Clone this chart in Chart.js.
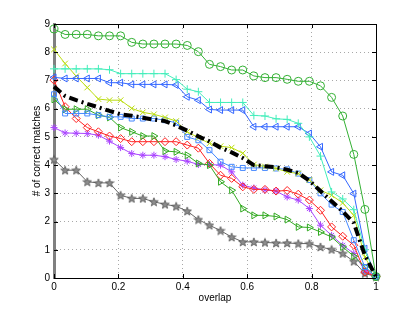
<!DOCTYPE html>
<html>
<head>
<meta charset="utf-8">
<script src="https://cdn.jsdelivr.net/npm/chart.js@4/dist/chart.umd.min.js"></script>
<style>
html,body{margin:0;padding:0;background:#fff}
#wrap{width:415px;height:313px}
</style>
</head>
<body>
<div id="wrap"><canvas id="c" width="415" height="313"></canvas></div>
<script>
// overlap values (x)
const overlap=[0,.0345,.069,.1034,.1379,.1724,.2069,.2414,.2759,.3103,.3448,.3793,.4138,.4483,.4828,.5172,.5517,.5862,.6207,.6552,.6897,.7241,.7586,.7931,.8276,.8621,.8966,.931,.9655,1];
const yTicks=[0,1,2,3,4,5,6,7,8,9];
const xTicks=[0,0.2,0.4,0.6,0.8,1];

const meanLine =[6.78,6.45,6.30,6.17,6.05,5.92,5.80,5.75,5.68,5.61,5.56,5.40,5.22,5.02,4.84,4.62,4.45,4.25,4.00,3.96,3.92,3.84,3.72,3.45,3.08,2.72,2.36,1.95,0.80,0.05];
const greenCirc=[8.82,8.63,8.63,8.63,8.58,8.58,8.58,8.35,8.29,8.29,8.29,8.29,8.24,8.02,7.57,7.49,7.37,7.37,7.16,7.10,7.10,7.04,6.97,6.97,6.81,6.40,5.74,4.38,2.43,0.05];
const cyanPlus =[7.41,7.41,7.41,7.41,7.41,7.38,7.24,7.24,7.24,7.24,7.24,7.03,6.69,6.60,6.22,6.22,6.22,6.22,5.76,5.74,5.64,5.62,5.48,5.00,4.32,3.05,2.80,2.42,1.00,0.05];
const blueTri  =[7.11,7.07,7.07,7.07,7.07,6.92,6.92,6.86,6.86,6.86,6.86,6.84,6.42,6.30,5.97,5.95,5.95,5.95,5.36,5.36,5.36,5.36,5.36,5.12,4.65,3.76,3.64,2.99,1.04,0.05];
const yellowX  =[8.10,7.60,7.15,6.75,6.34,6.30,6.30,6.01,5.87,5.80,5.69,5.56,5.18,4.97,4.77,4.67,4.62,4.42,4.02,3.95,3.88,3.76,3.70,3.47,3.11,2.93,2.66,2.22,0.74,0.05];
const blueSq   =[6.51,5.83,5.83,5.83,5.77,5.71,5.71,5.65,5.65,5.65,5.59,5.50,5.00,4.88,4.53,4.12,3.94,3.90,3.90,3.90,3.88,3.85,3.70,3.47,3.00,2.60,2.34,1.34,0.39,0.05];
const greenTri =[6.33,5.98,5.98,5.98,5.77,5.69,5.33,5.18,5.03,5.03,4.50,4.47,4.35,4.06,4.00,3.41,3.11,2.46,2.22,2.22,2.18,2.07,1.81,1.79,1.63,1.45,1.10,0.77,0.39,0.05];
const redDiam  =[7.01,6.07,5.65,5.33,5.18,5.03,4.94,4.83,4.83,4.83,4.83,4.83,4.71,4.60,4.06,3.64,3.53,3.23,3.14,3.14,3.08,3.10,2.97,2.76,2.40,1.81,1.48,1.16,0.21,0.05];
const purpleAst=[5.33,5.14,5.13,5.12,5.06,4.85,4.62,4.41,4.35,4.35,4.30,4.20,4.14,4.02,4.02,4.00,3.76,3.29,3.19,3.12,3.08,2.87,2.76,2.46,1.87,1.51,1.16,0.87,0.27,0.05];
const grayStar =[4.20,3.82,3.82,3.41,3.37,3.37,2.93,2.82,2.82,2.70,2.61,2.54,2.37,2.07,1.87,1.68,1.45,1.28,1.28,1.26,1.24,1.24,1.22,1.22,1.10,1.01,0.87,0.59,0.16,0.05];

const pts=arr=>arr.map((y,i)=>({x:overlap[i],y}));

// pentagram marker
const starImg=(()=>{const c=document.createElement('canvas');c.width=10;c.height=10;const g=c.getContext('2d');
  g.beginPath();for(let k=0;k<10;k++){const r=k%2?1.9:4.5,a=-Math.PI/2+k*Math.PI/5;g.lineTo(5+r*Math.cos(a),5.4+r*Math.sin(a));}
  g.closePath();g.fillStyle='#8c8c8c';g.fill();g.strokeStyle='#555';g.lineWidth=.8;g.stroke();return c})();

const ds=(data,color,style,extra)=>Object.assign({data:pts(data),borderColor:color,pointBorderColor:color,pointBackgroundColor:'rgba(0,0,0,0)',
  borderWidth:1,pointStyle:style,pointRadius:4,pointBorderWidth:1,tension:0,clip:false},extra||{});

const tickPlugin={id:'box',afterDraw(ch){
  const {ctx,chartArea:a,scales:{x,y}}=ch;ctx.save();ctx.strokeStyle='#000';ctx.lineWidth=1;ctx.beginPath();
  xTicks.forEach(v=>{const px=Math.round(x.getPixelForValue(v))+.5;ctx.moveTo(px,a.bottom);ctx.lineTo(px,a.bottom-4);ctx.moveTo(px,a.top);ctx.lineTo(px,a.top+4);});
  yTicks.forEach(v=>{const py=Math.round(y.getPixelForValue(v))+.5;ctx.moveTo(a.left,py);ctx.lineTo(a.left+4,py);ctx.moveTo(a.right,py);ctx.lineTo(a.right-4,py);});
  ctx.moveTo(a.left,a.top+.5);ctx.lineTo(a.right,a.top+.5);ctx.moveTo(a.right+.5,a.top);ctx.lineTo(a.right+.5,a.bottom);
  ctx.stroke();ctx.restore();}};

const font={family:'"Liberation Sans", Arial, Helvetica, sans-serif',size:10};
new Chart(document.getElementById('c'),{type:'line',
  data:{datasets:[
    ds(meanLine,'#000','circle',{pointRadius:0,borderWidth:4,borderDash:[9,4,2,4]}),
    ds(greenCirc,'#33b033','circle'),
    ds(cyanPlus,'#44eebb','cross'),
    ds(blueTri,'#3366ff','triangle',{pointRotation:-90}),
    ds(yellowX,'#bbdd11','crossRot'),
    ds(blueSq,'#4488ff','rect',{pointRadius:3.5}),
    ds(greenTri,'#33aa22','triangle',{pointRotation:90}),
    ds(redDiam,'#ff2222','rectRot'),
    ds(purpleAst,'#aa44ff','star',{pointRadius:3.5}),
    ds(grayStar,'#666666',starImg)
  ]},
  options:{responsive:false,animation:false,devicePixelRatio:1,
    layout:{padding:{left:24,top:24,right:39,bottom:0}},
    plugins:{legend:{display:false},tooltip:{enabled:false}},
    scales:{
      x:{type:'linear',min:0,max:1,afterBuildTicks:s=>{s.ticks=xTicks.map(v=>({value:v}))},
        afterFit:s=>{s.height=35},
        ticks:{font,color:'#000',padding:3,callback:v=>String(+v.toFixed(1))},
        grid:{color:'#a8a8a8',drawTicks:false},border:{color:'#000',dash:[1,3]},
        title:{display:true,text:'overlap',font,color:'#000',padding:{top:0,bottom:9}}},
      y:{min:0,max:9,afterBuildTicks:s=>{s.ticks=yTicks.map(v=>({value:v}))},
        afterFit:s=>{s.width=30},
        ticks:{font,color:'#000',padding:4},
        grid:{color:'#a8a8a8',drawTicks:false},border:{color:'#808080',width:3,dash:[1,3]},
        title:{display:true,text:'# of correct matches',font,color:'#000',padding:{top:7,bottom:0}}}
    }},
  plugins:[tickPlugin]});
</script>
</body>
</html>
